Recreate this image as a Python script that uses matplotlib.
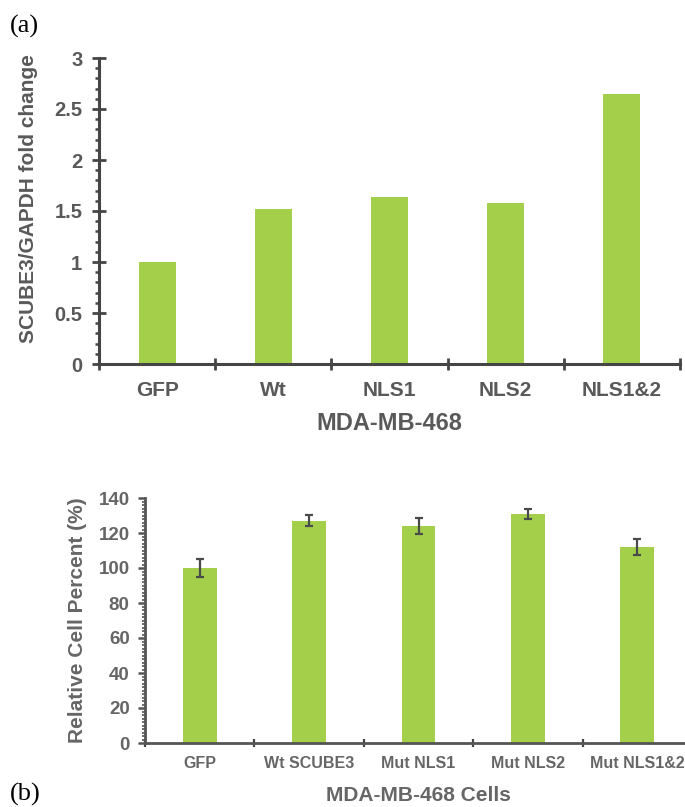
import numpy as np
import matplotlib.pyplot as plt
from matplotlib.ticker import MultipleLocator, FixedLocator, NullFormatter

# panel (a): qPCR fold change
cats_a = ['GFP', 'Wt', 'NLS1', 'NLS2', 'NLS1&2']
fold_a = [1.0, 1.52, 1.64, 1.58, 2.65]

# panel (b): relative cell percent
cats_b = ['GFP', 'Wt SCUBE3', 'Mut NLS1', 'Mut NLS2', 'Mut NLS1&2']
pct_b = [100, 127, 124, 131, 112]
err_b = [5, 3.2, 4.8, 3, 4.5]

GREEN = '#a3cf4b'
AXC = '#454545'
TXT = '#595959'
FONT = 'Liberation Sans'

W, H = 685, 807


def box(l, t, r, b):
    return [l / W, 1 - b / H, (r - l) / W, (b - t) / H]


def category_axis(ax, n, tick_len, lw, labsize, labpad, color):
    ax.set_xlim(-0.5, n - 0.5)
    ax.xaxis.set_major_locator(FixedLocator(np.arange(-0.5, n, 1.0)))
    ax.xaxis.set_major_formatter(NullFormatter())
    ax.xaxis.set_minor_locator(FixedLocator(np.arange(n)))
    ax.tick_params(axis='x', which='major', direction='inout', length=tick_len,
                   width=lw, color=AXC)
    ax.tick_params(axis='x', which='minor', length=0, pad=labpad,
                   labelsize=labsize, labelcolor=color)


def main():
    fig = plt.figure(figsize=(W / 100, H / 100), dpi=100)

    # ---- (a) ----
    ax1 = fig.add_axes(box(99, 58, 680, 364))
    x = np.arange(len(cats_a))
    ax1.bar(x, fold_a, width=0.32, color=GREEN, zorder=2)
    ax1.set_ylim(0, 3)
    ax1.yaxis.set_minor_locator(MultipleLocator(0.1))
    ax1.set_yticks([0, 0.5, 1, 1.5, 2, 2.5, 3])
    ax1.set_yticklabels(['0', '0.5', '1', '1.5', '2', '2.5', '3'],
                        fontfamily=FONT, fontweight='bold')
    ax1.tick_params(axis='y', which='major', direction='inout', length=10,
                    width=2, color=AXC, labelsize=14.5, labelcolor=TXT, pad=7)
    ax1.tick_params(axis='y', which='minor', direction='out', length=3,
                    width=1.8, color=AXC)
    category_axis(ax1, len(cats_a), 9, 2, 15, 12, TXT)
    ax1.set_xticklabels(cats_a, minor=True, fontfamily=FONT, fontweight='bold')
    for s in ['top', 'right']:
        ax1.spines[s].set_visible(False)
    for s in ['left', 'bottom']:
        ax1.spines[s].set_linewidth(2.2)
        ax1.spines[s].set_color(AXC)
    ax1.set_ylabel('SCUBE3/GAPDH fold change', fontfamily=FONT,
                   fontweight='bold', fontsize=15, color=TXT)
    ax1.yaxis.set_label_coords(-0.105, 0.54)
    ax1.set_xlabel('MDA-MB-468', fontfamily=FONT, fontweight='bold',
                   fontsize=17, color=TXT, labelpad=9)
    fig.text(10 / W, 1 - 26 / H, '(a)', fontfamily='Liberation Serif',
             fontsize=19, va='center', ha='left', color='black')

    # ---- (b) ----
    TXT2 = '#666666'
    ax2 = fig.add_axes(box(145, 498, 692, 743))
    x = np.arange(len(cats_b))
    ax2.bar(x, pct_b, width=0.31, color=GREEN, zorder=2)
    ax2.errorbar(x, pct_b, yerr=err_b, fmt='none', ecolor='#4a4a4a',
                 elinewidth=1.6, capsize=3, capthick=1.6, zorder=3)
    ax2.set_ylim(0, 140)
    ax2.set_yticks(np.arange(0, 141, 20))
    ax2.set_yticklabels([str(v) for v in range(0, 141, 20)],
                        fontfamily=FONT, fontweight='bold')
    ax2.yaxis.set_minor_locator(MultipleLocator(2))
    ax2.tick_params(axis='y', which='major', direction='out', length=5,
                    width=1.8, color='#555555', labelsize=13.5,
                    labelcolor=TXT2, pad=6)
    ax2.tick_params(axis='y', which='minor', direction='out', length=2.5,
                    width=1.2, color='#555555')
    category_axis(ax2, len(cats_b), 6, 1.6, 11.5, 9, TXT2)
    ax2.set_xticklabels(cats_b, minor=True, fontfamily=FONT, fontweight='bold')
    for s in ['top', 'right']:
        ax2.spines[s].set_visible(False)
    for s in ['left', 'bottom']:
        ax2.spines[s].set_linewidth(2)
        ax2.spines[s].set_color('#555555')
    ax2.set_ylabel('Relative Cell Percent (%)', fontfamily=FONT,
                   fontweight='bold', fontsize=15, color=TXT2, labelpad=8)
    ax2.set_xlabel('MDA-MB-468 Cells', fontfamily=FONT, fontweight='bold',
                   fontsize=15, color=TXT2, labelpad=11)
    fig.text(10 / W, 1 - 806 / H, '(b)', fontfamily='Liberation Serif',
             fontsize=19, va='bottom', ha='left', color='black')

    fig.savefig('out.png', dpi=100)


if __name__ == '__main__':
    main()
